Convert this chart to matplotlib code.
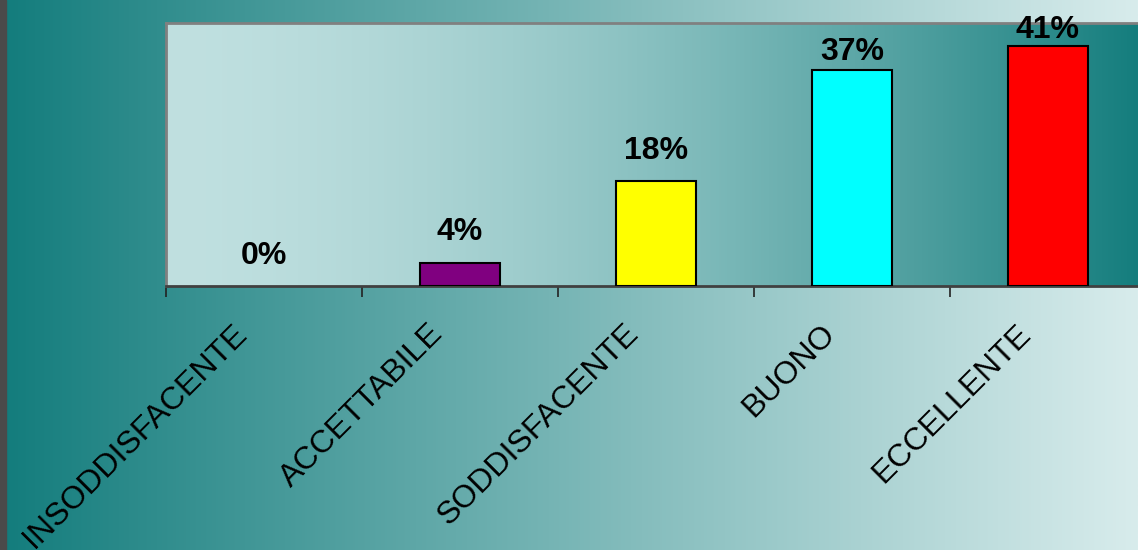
import numpy as np
import matplotlib
matplotlib.use('Agg')
import matplotlib.pyplot as plt
import matplotlib.transforms as mtrans
from matplotlib.patches import Rectangle

plt.rcParams['font.family'] = ['Liberation Sans', 'DejaVu Sans']

# dati del grafico
categorie = ['INSODDISFACENTE', 'ACCETTABILE', 'SODDISFACENTE', 'BUONO', 'ECCELLENTE']
valori = [0, 4, 18, 37, 41]
etichette = ['0%', '4%', '18%', '37%', '41%']
colori = ['#800080', '#800080', '#FFFF00', '#00FFFF', '#FF0000']

# distanza etichetta-barra (punti), Excel le schiaccia in alto
pad_etichette = [11, 11.5, 11, 2, 1]

W, H = 1138, 550
fig = plt.figure(figsize=(W / 100, H / 100), dpi=100)

scuro = np.array([18, 124, 124]) / 255
chiaro_fig = np.array([216, 236, 236]) / 255
chiaro_ax = np.array([192, 224, 224]) / 255

# sfondo della figura: scuro a sinistra, chiaro a destra
bg = fig.add_axes([0, 0, 1, 1], zorder=-10)
t = np.linspace(0, 1, 512) ** 0.95
grad = scuro[None, :] + (chiaro_fig - scuro)[None, :] * t[:, None]
bg.imshow(grad[None, :, :], aspect='auto', extent=[0, 1, 0, 1])
bg.add_patch(Rectangle((0, 0), 6 / W, 1, color='#4a4a4a', transform=bg.transAxes))
bg.set_xlim(0, 1)
bg.set_ylim(0, 1)
bg.axis('off')

ax = fig.add_axes([166 / W, 1 - 286 / H, 980 / W, 263 / H])
ax.set_xlim(-0.5, len(categorie) - 0.5)
ax.set_ylim(0, 45)

# sfondo area del grafico: chiaro a sinistra, scuro a destra
t2 = np.linspace(0, 1, 512) ** 1.6
grad2 = chiaro_ax[None, :] + (scuro - chiaro_ax)[None, :] * t2[:, None]
ax.imshow(grad2[None, :, :], aspect='auto', extent=[-0.5, len(categorie) - 0.5, 0, 45], zorder=0)

x = np.arange(len(categorie))
lw = [1.5 if v > 0 else 0 for v in valori]
bars = ax.bar(x, valori, width=0.41, color=colori, edgecolor='black', linewidth=lw, zorder=3)

for b, lab, p in zip(bars, etichette, pad_etichette):
    ax.annotate(lab, (b.get_x() + b.get_width() / 2, b.get_height()),
                xytext=(0, p), textcoords='offset points', ha='center', va='bottom',
                fontsize=23, fontweight='bold', color='black', zorder=4)

# etichette categorie ruotate a 45 gradi, la fine del testo sotto la categoria
ax.set_xticks(x)
ax.set_xticklabels([])
sposta = mtrans.ScaledTranslation(-16 / 100, -49 / 100, fig.dpi_scale_trans)
for i, cat in enumerate(categorie):
    ax.text(i, 0, cat, transform=ax.get_xaxis_transform() + sposta,
            rotation=45, rotation_mode='anchor', ha='right', va='baseline',
            fontsize=23, color='black', clip_on=False)

ax.set_xticks(np.arange(-0.5, len(categorie)), minor=True)
ax.tick_params(axis='x', which='major', length=0)
ax.tick_params(axis='x', which='minor', length=8, width=1.2, color='#222222', direction='out')
ax.set_yticks([])

for s in ['top', 'left']:
    ax.spines[s].set_color('#808080')
    ax.spines[s].set_linewidth(2)
ax.spines['right'].set_visible(False)
ax.spines['bottom'].set_color('#404040')
ax.spines['bottom'].set_linewidth(2)

fig.savefig('out.png', dpi=100)
